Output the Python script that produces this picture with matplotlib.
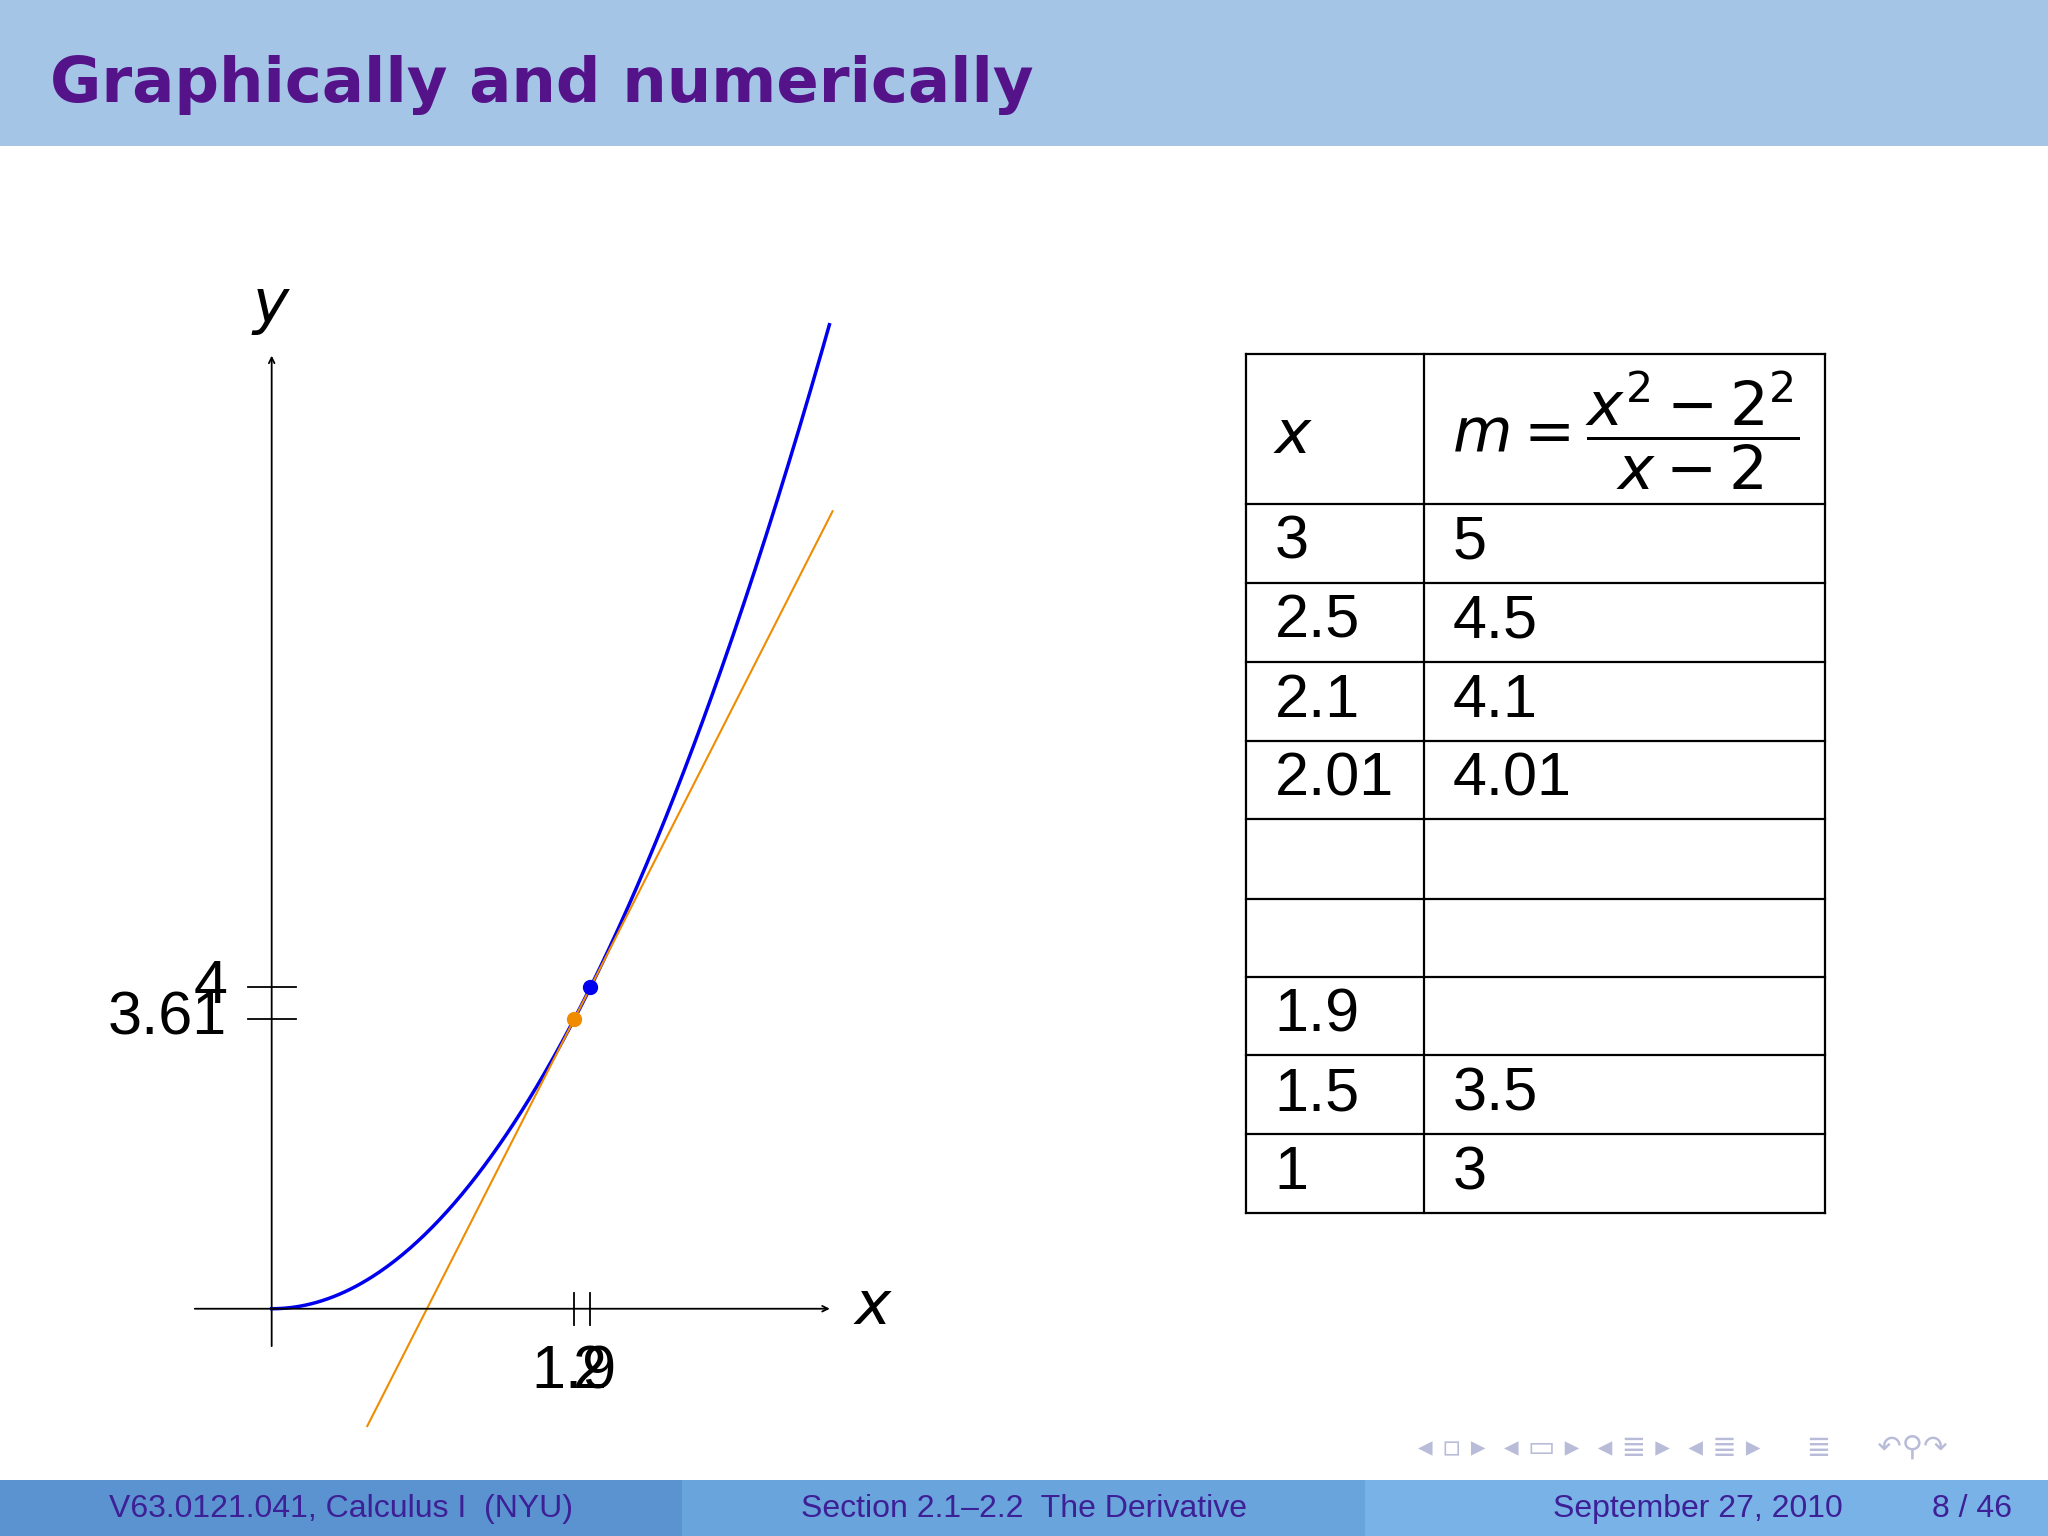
import numpy as np
import matplotlib.pyplot as plt

plt.rcParams['font.family'] = ['Liberation Sans', 'DejaVu Sans']
plt.rcParams['mathtext.fontset'] = 'dejavusans'

# data
title = 'Graphically and numerically'
x_col = ['3', '2.5', '2.1', '2.01', '', '', '1.9', '1.5', '1']
m_col = ['5', '4.5', '4.1', '4.01', '', '', '', '3.5', '3']
a, fa = 2.0, 4.0
b, fb = 1.9, 3.61
footer = ['V63.0121.041, Calculus I  (NYU)', 'Section 2.1–2.2  The Derivative', 'September 27, 2010', '8 / 46']

W, H = 1568, 1176
fig = plt.figure(figsize=(20.48, 15.36), dpi=100)

# background layer in reference-pixel coords
bg = fig.add_axes([0, 0, 1, 1])
bg.set_xlim(0, W); bg.set_ylim(H, 0); bg.axis('off')
bg.add_patch(plt.Rectangle((0, 0), W, 112, color='#a5c5e7', lw=0))
bg.text(38, 65, title, fontsize=45, fontweight='bold', color='#55138a',
        family='DejaVu Sans', va='center')
for x0, x1, c in [(0, 522, '#5a93d0'), (522, 1045, '#69a4dc'), (1045, W, '#79b2e6')]:
    bg.add_patch(plt.Rectangle((x0, 1133), x1 - x0, 43, color=c, lw=0))
fc = '#3d1f96'
bg.text(261, 1155, footer[0], fontsize=23, color=fc, ha='center', va='center')
bg.text(784, 1155, footer[1], fontsize=23, color=fc, ha='center', va='center')
bg.text(1300, 1155, footer[2], fontsize=23, color=fc, ha='center', va='center')
bg.text(1510, 1155, footer[3], fontsize=23, color=fc, ha='center', va='center')
bg.text(1288, 1108, '◂ ▫ ▸  ◂ ▭ ▸  ◂ ≣ ▸  ◂ ≣ ▸     ≣     ↶⚲↷',
        fontsize=21, color='#b8bcd8', ha='center', va='center', family='DejaVu Sans')

# table
cols = [954, 1090, 1397]
rows = [271, 386, 446, 507, 567, 627, 688, 748, 808, 868, 929]
for cx in cols:
    bg.plot([cx, cx], [rows[0], rows[-1]], color='black', lw=1.6)
for ry in rows:
    bg.plot([cols[0], cols[-1]], [ry, ry], color='black', lw=1.6)
fs = 44
bg.text(975, 335, r'$x$', fontsize=fs, va='center')
bg.text(1112, 330, r'$m = \dfrac{x^2-2^2}{x-2}$', fontsize=fs, va='center')
for i, (xv, mv) in enumerate(zip(x_col, m_col)):
    yc = (rows[i + 1] + rows[i + 2]) / 2
    bg.text(976, yc, xv, fontsize=fs, va='center')
    bg.text(1112, yc, mv, fontsize=fs, va='center')

# graph axes: 1 unit x = 122 px, 1 unit y = 61.5 px, origin at (208, 1002)
sx, sy = 122, 61.5
L, R, T, B = 100, 700, 200, 1110
ax = fig.add_axes([L / W, 1 - B / H, (R - L) / W, (B - T) / H])
ax.set_xlim((L - 208) / sx, (R - 208) / sx)
ax.set_ylim((1002 - B) / sy, (1002 - T) / sy)
ax.axis('off')
ax.annotate('', xy=(3.52, 0), xytext=(-0.5, 0),
            arrowprops=dict(arrowstyle='->', lw=1.3, color='black'))
ax.annotate('', xy=(0, 11.9), xytext=(0, -0.5),
            arrowprops=dict(arrowstyle='->', lw=1.3, color='black'))
ax.text(3.65, 0, r'$x$', fontsize=fs, va='center')
ax.text(0, 12.1, r'$y$', fontsize=fs, ha='center', va='bottom')

xx = np.linspace(0, 3.5, 300)
ax.plot(xx, xx ** 2, color='#0000ee', lw=2.5)
slope = (fa - fb) / (a - b)
xl = np.array([0.6, 3.52])
ax.plot(xl, fb + slope * (xl - b), color='#f08c00', lw=1.5)
ax.plot([a], [fa], 'o', color='#0000ee', ms=10)
ax.plot([b], [fb], 'o', color='#f08c00', ms=10)

for xv in (b, a):
    ax.plot([xv, xv], [-0.2, 0.2], color='black', lw=1.3)
for yv in (fb, fa):
    ax.plot([-0.15, 0.15], [yv, yv], color='black', lw=1.3)
ax.text(b, -0.8, '1.9', fontsize=fs, ha='center', va='center')
ax.text(a, -0.8, '2', fontsize=fs, ha='center', va='center')
ax.text(-0.28, fb, '3.61', fontsize=fs, ha='right', va='center')
ax.text(-0.28, fa, '4', fontsize=fs, ha='right', va='center')

fig.savefig('out.png', dpi=100)
